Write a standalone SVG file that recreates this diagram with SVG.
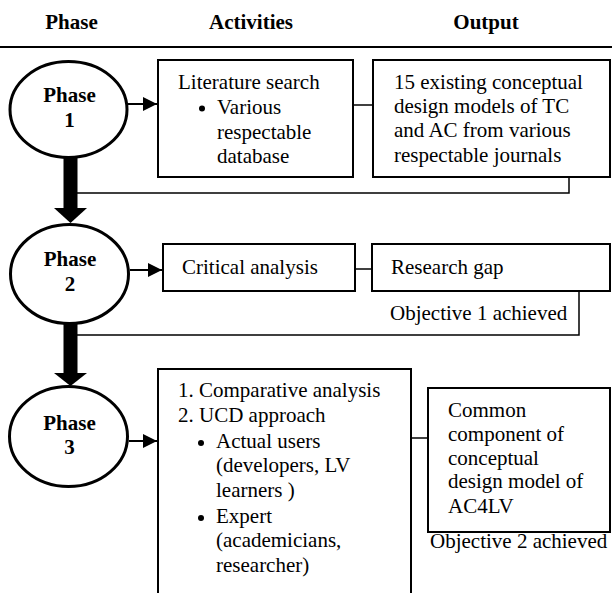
<svg xmlns="http://www.w3.org/2000/svg" width="612" height="593" viewBox="0 0 612 593">
<style>
text{font-family:"Liberation Serif","Times New Roman",serif;font-size:21px;fill:#000}
.b{font-weight:bold}
.c{text-anchor:middle}
.ell{fill:#fff;stroke:#000;stroke-width:3}
.box{fill:#fff;stroke:#000;stroke-width:2}
.ln{fill:none;stroke:#000;stroke-width:1.5}
.ar{fill:none;stroke:#000;stroke-width:2}
.thick{fill:#000;stroke:none}
</style>
<defs>
<marker id="ah" markerWidth="8" markerHeight="8" refX="7" refY="3.5" orient="auto" markerUnits="strokeWidth">
<path d="M0,0 L7,3.5 L0,7 Z" fill="#000"/>
</marker>
</defs>
<rect width="612" height="593" fill="#fff"/>
<g id="header">
<text class="b c" x="71.5" y="29">Phase</text>
<text class="b c" x="251" y="29">Activities</text>
<text class="b c" x="486" y="29">Output</text>
<line x1="0" y1="47" x2="612" y2="47" stroke="#000" stroke-width="2"/>
</g>
<g id="connectors">
<line class="ar" x1="128" y1="104" x2="157" y2="104" marker-end="url(#ah)"/>
<line class="ar" x1="130" y1="270" x2="162" y2="270" marker-end="url(#ah)"/>
<line class="ar" x1="129" y1="441" x2="157" y2="441" marker-end="url(#ah)"/>
<line class="ln" x1="354" y1="105" x2="372" y2="105"/>
<line class="ln" x1="356" y1="269" x2="371" y2="269"/>
<line class="ln" x1="412" y1="438" x2="427" y2="438"/>
<polyline class="ln" points="569,178 569,193 77,193"/>
<polyline class="ln" points="579,292 579,335 77,335"/>
<rect class="thick" x="63.5" y="158" width="14" height="51"/>
<polygon class="thick" points="54,208 87,208 70.5,223"/>
<rect class="thick" x="63.5" y="324" width="14" height="50"/>
<polygon class="thick" points="54,373 87,373 70.5,386"/>
</g>
<g id="phase1">
<ellipse class="ell" cx="68.5" cy="109.5" rx="58.5" ry="48"/>
<text class="b c" x="69.5" y="102">Phase</text>
<text class="b c" x="69.5" y="127">1</text>
</g>
<g id="phase2">
<ellipse class="ell" cx="69.5" cy="274" rx="59" ry="49.5"/>
<text class="b c" x="70" y="266">Phase</text>
<text class="b c" x="70" y="291">2</text>
</g>
<g id="phase3">
<ellipse class="ell" cx="68.5" cy="436.5" rx="59" ry="50"/>
<text class="b c" x="69.5" y="430">Phase</text>
<text class="b c" x="69.5" y="454">3</text>
</g>
<g id="activity1">
<rect class="box" x="158" y="60" width="195" height="117"/>
<text x="178" y="89">Literature search</text>
<circle cx="202" cy="108.5" r="3"/>
<text x="217" y="114">Various</text>
<text x="217" y="139">respectable</text>
<text x="217" y="163">database</text>
</g>
<g id="output1">
<rect class="box" x="373" y="60" width="237" height="117"/>
<text x="394" y="89">15 existing conceptual</text>
<text x="394" y="113">design models of TC</text>
<text x="394" y="137">and AC from various</text>
<text x="394" y="162">respectable journals</text>
</g>
<g id="activity2">
<rect class="box" x="163" y="244" width="192" height="47"/>
<text x="182" y="274">Critical analysis</text>
</g>
<g id="output2">
<rect class="box" x="372" y="244" width="238" height="47"/>
<text x="391" y="274">Research gap</text>
<text x="390" y="320">Objective 1 achieved</text>
</g>
<g id="activity3">
<path class="box" d="M158,600 V369 H411 V600"/>
<text x="178" y="397">1. Comparative analysis</text>
<text x="178" y="422">2. UCD approach</text>
<circle cx="201" cy="443" r="3"/>
<text x="216" y="448">Actual users</text>
<text x="216" y="472">(developers, LV</text>
<text x="216" y="497">learners )</text>
<circle cx="201" cy="518" r="3"/>
<text x="216" y="523">Expert</text>
<text x="216" y="547">(academicians,</text>
<text x="216" y="572">researcher)</text>
</g>
<g id="output3">
<rect class="box" x="428" y="388" width="182" height="144"/>
<text x="448" y="417">Common</text>
<text x="448" y="441">component of</text>
<text x="448" y="465">conceptual</text>
<text x="448" y="488">design model of</text>
<text x="448" y="513">AC4LV</text>
<text x="430" y="548">Objective 2 achieved</text>
</g>
</svg>
